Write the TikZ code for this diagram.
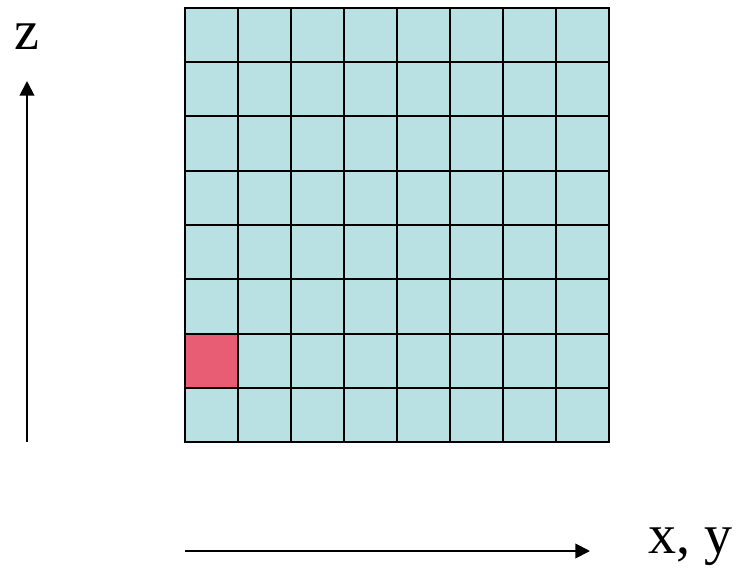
\documentclass[tikz,border=0pt]{standalone}
\usepackage{fontspec}
\setmainfont{Liberation Serif}
\usepackage{xcolor}
\usetikzlibrary{positioning,arrows.meta}
\definecolor{cellblue}{HTML}{B9E0E3}
\definecolor{cellred}{HTML}{E85C74}
\tikzset{
    cell/.style={
        draw=black, fill=cellblue, line width=1.5pt,
        minimum width=53*0.75pt, minimum height=54.25*0.75pt,
        inner sep=0pt, outer sep=0pt
    },
    cellhi/.style={cell, fill=cellred},
    axislabel/.style={font=\fontsize{42}{46}\selectfont, inner sep=0pt},
    axis/.style={-{Triangle[length=11pt, width=11pt]}, line width=1.4pt},
}

\begin{document}
\begin{tikzpicture}[x=0.75pt, y=-0.75pt]
        \useasboundingbox (0,0) rectangle (738,573);
        % 8x8 grid of cells
        \foreach \i in {0,...,7} {
            \foreach \j in {0,...,7} {
                \node[cell, anchor=north west] (c\i\j) at (185+53*\i, 8+54.25*\j) {};
            }
        }
        \node[cellhi, anchor=north west] (red) at (185, 8+54.25*6) {};
        % axes
        \coordinate (zfrom) at (27,442);
        \coordinate (zto) at (27,81);
        \coordinate (xfrom) at (185,551);
        \coordinate (xto) at (590,551);
        \draw[axis] (zfrom) -- (zto);
        \draw[axis] (xfrom) -- (xto);
        \node[axislabel] (zlab) at (27,37) {z};
        \node[axislabel] (xylab) at (690,547) {x,\ y};
    \end{tikzpicture}
\end{document}
